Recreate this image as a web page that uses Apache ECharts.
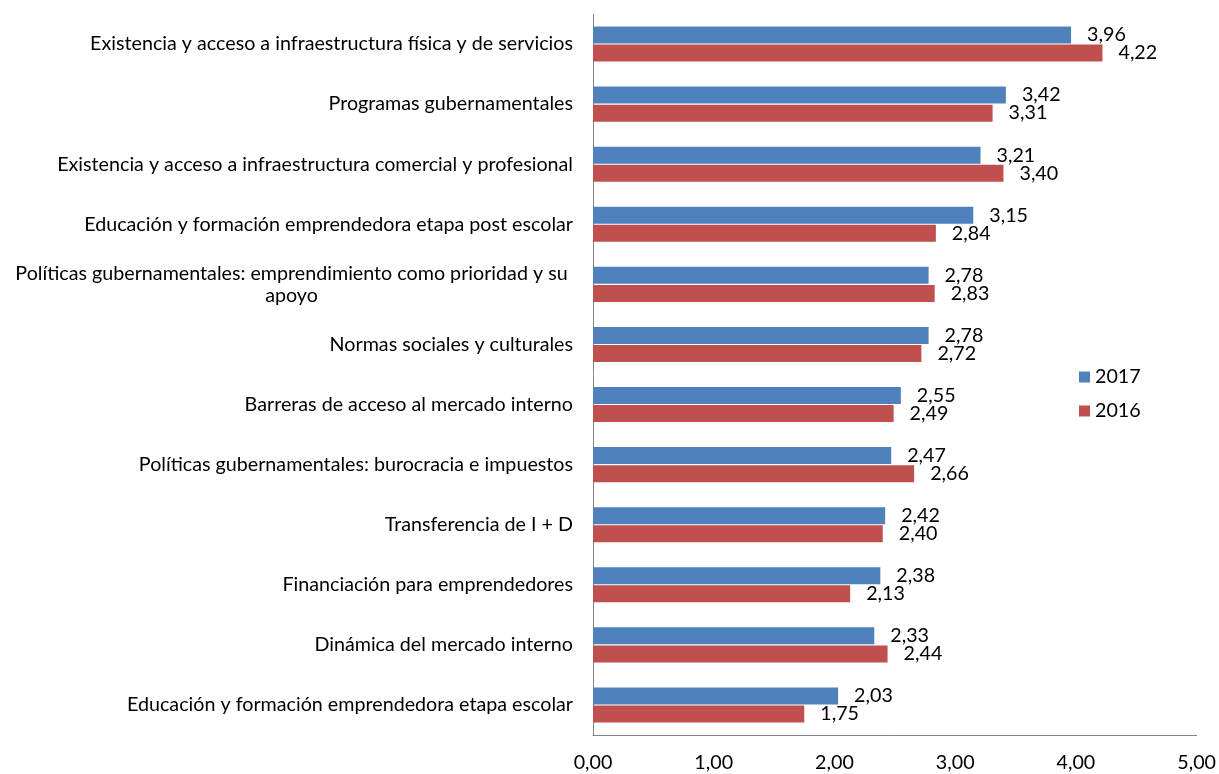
<!DOCTYPE html>
<html><head><meta charset="utf-8">
<script src="https://cdn.jsdelivr.net/npm/echarts@6/dist/echarts.min.js"></script>
<style>html,body{margin:0;padding:0;background:#fff}#c{width:1219px;height:774px}</style>
</head><body><div id="c"></div>
<script>
const categories = [
  "Existencia y acceso a infraestructura física y de servicios",
  "Programas gubernamentales",
  "Existencia y acceso a infraestructura comercial y profesional",
  "Educación y formación emprendedora etapa post escolar",
  "Políticas gubernamentales: emprendimiento como prioridad y su\napoyo",
  "Normas sociales y culturales",
  "Barreras de acceso al mercado interno",
  "Políticas gubernamentales: burocracia e impuestos",
  "Transferencia de I + D",
  "Financiación para emprendedores",
  "Dinámica del mercado interno",
  "Educación y formación emprendedora etapa escolar"
];
const values2017 = [3.96, 3.42, 3.21, 3.15, 2.78, 2.78, 2.55, 2.47, 2.42, 2.38, 2.33, 2.03];
const values2016 = [4.22, 3.31, 3.40, 2.84, 2.83, 2.72, 2.49, 2.66, 2.40, 2.13, 2.44, 1.75];
const seriesNames = ["2017", "2016"];

const FONT = "Lato";
const FS = 19.7;
const fmt = v => Number(v).toFixed(2).replace('.', ',');
const chart = echarts.init(document.getElementById('c'));
chart.setOption({
  animation: false,
  textStyle: { fontFamily: FONT },
  grid: { left: 593, right: 20, top: 14, bottom: 39, containLabel: false },
  legend: {
    orient: 'vertical', left: 1074, top: 362,
    icon: 'rect', itemWidth: 11, itemHeight: 11, itemGap: 14,
    textStyle: { fontSize: FS, color: '#000', fontFamily: FONT },
    data: seriesNames
  },
  xAxis: {
    type: 'value', min: 0, max: 5, interval: 1,
    axisLine: { show: true, lineStyle: { color: '#868686' } },
    axisTick: { show: false },
    splitLine: { show: false },
    axisLabel: { fontSize: FS, color: '#000', margin: 18, formatter: fmt }
  },
  yAxis: {
    type: 'category', inverse: true, data: categories,
    axisLine: { show: true, lineStyle: { color: '#868686' } },
    axisTick: { show: false },
    axisLabel: {
      fontSize: FS, color: '#000', margin: 20, lineHeight: 22,
      formatter: v => v.indexOf('\n') >= 0 ? '{c|' + v + '}' : v,
      rich: { c: { width: 563, align: 'center', fontSize: FS, lineHeight: 22, color: '#000', fontFamily: FONT } }
    }
  },
  series: [
    {
      name: seriesNames[0], type: 'bar', data: values2017,
      itemStyle: { color: '#4F81BD' }, barWidth: 17, barGap: '6%',
      label: { show: true, position: 'right', distance: 16, fontSize: FS, color: '#000', formatter: p => fmt(p.value) }
    },
    {
      name: seriesNames[1], type: 'bar', data: values2016,
      itemStyle: { color: '#C0504D' }, barWidth: 17, barGap: '6%',
      label: { show: true, position: 'right', distance: 16, fontSize: FS, color: '#000', formatter: p => fmt(p.value) }
    }
  ]
});
</script></body></html>
